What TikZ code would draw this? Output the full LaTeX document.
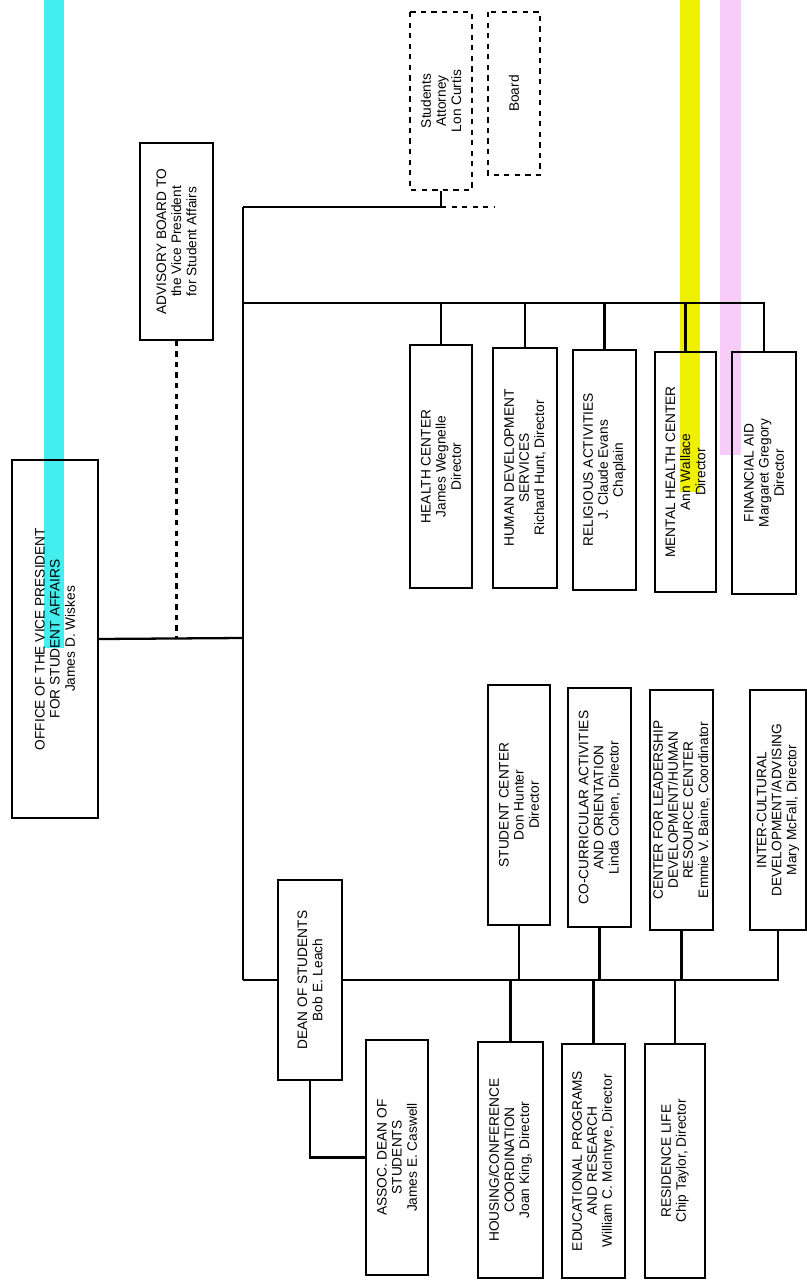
\documentclass[tikz,border=0pt]{standalone}
\usepackage{fontspec}
\setmainfont{Liberation Sans}
\usetikzlibrary{positioning}
\definecolor{scanCyan}{HTML}{44EEEE}
\definecolor{scanYellow}{HTML}{EEF000}
\definecolor{scanPink}{HTML}{F8CCF8}

\begin{document}
\begin{tikzpicture}[
  x=0.02cm, y=-0.02cm,
  every node/.style={font=\fontsize{7.8}{8.6}\selectfont, align=center},
  unit/.style 2 args={draw, line width=0.9pt, rotate=90, inner sep=0.5pt,
              minimum width=#1*0.02cm, minimum height=#2*0.02cm},
  ghost/.style 2 args={unit={#1}{#2}, dashed},
  wire/.style={line width=1.3pt},
  dashwire/.style={line width=1.3pt, dashed},
]
  \useasboundingbox (0,0) rectangle (807,1280);

  % scan stripes
  \fill[scanCyan] (44,0) rectangle (64,648);
  \fill[scanYellow] (680,0) rectangle (700,492);
  \fill[scanPink] (720,0) rectangle (741,455);

  % top of the chart
  \node[unit={358}{86}] (office) at (55,639)
    {OFFICE OF THE VICE PRESIDENT\\FOR STUDENT AFFAIRS\\James D. Wiskes};
  \node[unit={197}{73}] (advisory) at (176.5,241.5)
    {ADVISORY BOARD TO\\the Vice President\\for Student Affairs};
  \node[ghost={178}{62}] (attorney) at (441,101)
    {Students\\Attorney\\Lon Curtis};
  \node[ghost={163}{52}] (board) at (514,93.5) {Board};

  % services
  \node[unit={243}{62}] (health) at (441,466.5)
    {HEALTH CENTER\\James Wegnelle\\Director};
  \node[unit={240}{64}] (humandev) at (525,468)
    {HUMAN DEVELOPMENT\\SERVICES\\Richard Hunt, Director};
  \node[unit={240}{63}] (religious) at (604.5,470)
    {RELIGIOUS ACTIVITIES\\J. Claude Evans\\Chaplain};
  \node[unit={240}{61}] (mental) at (685.5,472)
    {MENTAL HEALTH CENTER\\Ann Wallace\\Director};
  \node[unit={242}{64}] (finaid) at (764,473)
    {FINANCIAL AID\\Margaret Gregory\\Director};

  % dean of students
  \node[unit={200}{64}] (dean) at (310,980)
    {DEAN OF STUDENTS\\Bob E. Leach};
  \node[unit={235}{62}] (assoc) at (397,1157.5)
    {ASSOC. DEAN OF\\STUDENTS\\James E. Caswell};

  \node[unit={240}{62}] (stucenter) at (519,805)
    {STUDENT CENTER\\Don Hunter\\Director};
  \node[unit={239}{63}] (cocurr) at (599.5,807.5)
    {CO-CURRICULAR ACTIVITIES\\AND ORIENTATION\\Linda Cohen, Director};
  \node[unit={240}{63}] (leader) at (681.5,810)
    {CENTER FOR LEADERSHIP\\DEVELOPMENT/HUMAN\\RESOURCE CENTER\\Emmie V. Baine, Coordinator};
  \node[unit={240}{56}] (intercult) at (778,810)
    {INTER-CULTURAL\\DEVELOPMENT/ADVISING\\Mary McFall, Director};

  \node[unit={236}{65}] (housing) at (510.5,1160)
    {HOUSING/CONFERENCE\\COORDINATION\\Joan King, Director};
  \node[unit={234}{63}] (educ) at (593.5,1161)
    {EDUCATIONAL PROGRAMS\\AND RESEARCH\\William C. McIntyre, Director};
  \node[unit={234}{60}] (reslife) at (675,1161)
    {RESIDENCE LIFE\\Chip Taylor, Director};

  % lines
  \coordinate (top) at (243,207);
  \coordinate (mid) at (243,303);
  \coordinate (hub) at (243,638);
  \coordinate (low) at (243,980);
  \coordinate (stub) at (495,207);

  \draw[wire] (top) -- (low);
  \draw[wire] (office.south) -- (hub);
  \draw[dashwire] (advisory.west) -- (advisory.west |- hub);

  \draw[wire] (top) -| (attorney.west);
  \draw[dashwire] (attorney.west |- top) -- (stub);

  \draw[wire] (mid) -| (finaid.east);
  \foreach \b in {health, humandev, religious, mental}
    \draw[wire] (\b.east) -- (\b.east |- mid);

  \draw[wire] (low) -- (dean.north);
  \draw[wire] (dean.south) -| (intercult.west);
  \foreach \b in {stucenter, cocurr, leader}
    \draw[wire] (\b.west) -- (\b.west |- low);
  \foreach \b in {housing, educ, reslife}
    \draw[wire] (\b.east) -- (\b.east |- low);
  \draw[wire] (dean.west) |- (assoc.north);
\end{tikzpicture}
\end{document}
